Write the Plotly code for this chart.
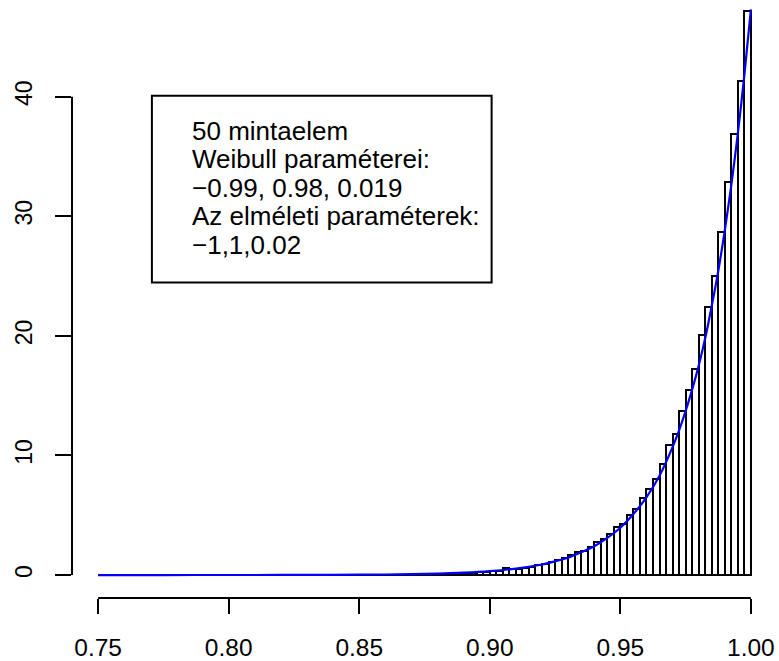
import plotly.graph_objects as go

# ---- data ----
bin_start = 0.75
bin_width = 0.0025
# histogram densities, left (0.75) to right (1.00), 100 bins
bar_heights = [0.0] * 39 + [
    0.006, 0.008, 0.010, 0.012, 0.016, 0.020, 0.025, 0.030, 0.040, 0.045,
    0.05, 0.06, 0.07, 0.09, 0.10, 0.12, 0.14, 0.16, 0.19, 0.22,
    0.25, 0.30, 0.36, 0.56, 0.50, 0.53, 0.61, 0.67, 0.86, 0.94,
    1.06, 1.25, 1.42, 1.64, 1.89, 2.03, 2.33, 2.78, 3.03, 3.47,
    4.03, 4.30, 5.00, 5.53, 6.44, 7.22, 8.06, 9.28, 10.86, 11.8,
    13.7, 15.5, 17.2, 20.1, 22.4, 25.0, 28.7, 32.9, 36.9, 41.3, 47.2,
]

# fitted Weibull density curve
curve_x = [0.75, 0.775, 0.80, 0.82, 0.84, 0.86, 0.87, 0.88, 0.89, 0.90,
           0.91, 0.92, 0.925, 0.93, 0.935, 0.94, 0.945, 0.95, 0.955, 0.96,
           0.965, 0.97, 0.9725, 0.975, 0.9775, 0.98, 0.9825, 0.985, 0.9875,
           0.99, 0.9925, 0.995, 0.9975, 1.0]
curve_y = [0.0, 0.0003, 0.002, 0.006, 0.016, 0.045, 0.075, 0.12, 0.20, 0.33,
           0.54, 0.88, 1.15, 1.45, 1.90, 2.40, 3.10, 3.95, 5.10, 6.50,
           8.30, 10.7, 12.1, 13.7, 15.5, 17.5, 19.8, 22.5, 25.4,
           28.8, 32.6, 36.9, 41.8, 47.3]

x_ticks = [0.75, 0.80, 0.85, 0.90, 0.95, 1.00]
x_tick_labels = ["0.75", "0.80", "0.85", "0.90", "0.95", "1.00"]
y_ticks = [0, 10, 20, 30, 40]
y_tick_labels = ["0", "10", "20", "30", "40"]

legend_lines = [
    "50 mintaelem",
    "Weibull paraméterei:",
    "\u22120.99, 0.98, 0.019",
    "Az elméleti paraméterek:",
    "\u22121,1,0.02",
]

# ---- figure ----
centers = [bin_start + bin_width * (i + 0.5) for i in range(len(bar_heights))]
FONT = "Liberation Sans, Arial, Helvetica, sans-serif"

fig = go.Figure()
fig.add_trace(go.Bar(
    x=centers, y=bar_heights, width=bin_width,
    marker=dict(color="rgba(255,255,255,0)", line=dict(color="black", width=2)),
    showlegend=False, hoverinfo="skip",
))
fig.add_trace(go.Scatter(
    x=curve_x, y=curve_y, mode="lines",
    line=dict(color="#0000FF", width=2.2, shape="spline", smoothing=0.6),
    showlegend=False, hoverinfo="skip", cliponaxis=False,
))

shapes = [
    # R-style axis lines spanning first..last tick
    dict(type="line", xref="x", yref="paper", x0=x_ticks[0], x1=x_ticks[-1], y0=0, y1=0,
         line=dict(color="black", width=2)),
    dict(type="line", xref="paper", yref="y", x0=0, x1=0, y0=y_ticks[0], y1=y_ticks[-1],
         line=dict(color="black", width=2)),
    # legend box
    dict(type="rect", xref="x", yref="y", x0=0.7706, x1=0.9007, y0=24.47, y1=40.08,
         line=dict(color="black", width=2), fillcolor="rgba(0,0,0,0)"),
]

legend_y = [37.11, 34.75, 32.38, 30.03, 27.63]
annotations = [
    dict(x=0.785, y=ly, xref="x", yref="y", text=t, showarrow=False,
         xanchor="left", yanchor="middle", font=dict(family=FONT, size=26, color="black"))
    for t, ly in zip(legend_lines, legend_y)
]

fig.update_layout(
    width=779, height=661,
    margin=dict(l=72, r=2, t=0, b=61, pad=0),
    paper_bgcolor="white", plot_bgcolor="white",
    bargap=0,
    shapes=shapes,
    annotations=annotations,
    font=dict(family=FONT, size=24, color="black"),
    xaxis=dict(range=[0.74, 1.01], tickvals=x_ticks, ticktext=x_tick_labels,
               showgrid=False, zeroline=False, showline=False,
               ticks="outside", ticklen=15, tickwidth=2, tickcolor="black",
               tickfont=dict(family=FONT, size=24.5, color="black"),
               ticklabelstandoff=13),
    yaxis=dict(range=[-1.92, 48.08], tickvals=y_ticks, ticktext=y_tick_labels,
               showgrid=False, zeroline=False, showline=False,
               ticks="outside", ticklen=16, tickwidth=2, tickcolor="black",
               tickangle=-90,
               tickfont=dict(family=FONT, size=23, color="black"),
               ticklabelstandoff=14),
)

fig.write_html(
    "out.html",
    config={"displayModeBar": False},
    post_script="document.body.style.margin='0px';document.body.style.overflow='hidden';",
)
